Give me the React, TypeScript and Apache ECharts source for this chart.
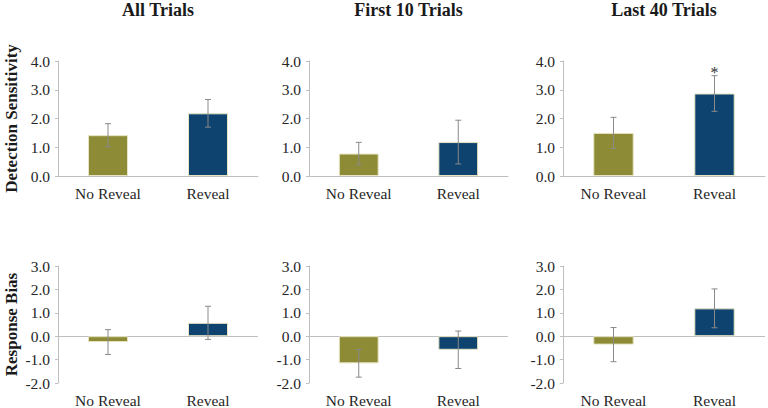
import React, { useEffect, useRef } from "react";
import * as echarts from "echarts";

const categories = ["No Reveal", "Reveal"];
const panelTitles = ["All Trials", "First 10 Trials", "Last 40 Trials"];
const rowNames = ["Detection Sensitivity", "Response Bias"];
const sensitivityMeans = [
  [1.42, 2.18],
  [0.78, 1.18],
  [1.5, 2.87],
];
const sensitivityErrors = [
  [0.4, 0.48],
  [0.39, 0.76],
  [0.54, 0.62],
];
const sensitivityMarks = [
  ["", ""],
  ["", ""],
  ["", "*"],
];
const biasMeans = [
  [-0.25, 0.57],
  [-1.16, -0.58],
  [-0.36, 1.19],
];
const biasErrors = [
  [0.53, 0.71],
  [0.59, 0.8],
  [0.73, 0.83],
];
const biasMarks = [
  ["", ""],
  ["", ""],
  ["", ""],
];
const sensitivityTicks = { min: 0, max: 4, interval: 1 };
const biasTicks = { min: -2, max: 3, interval: 1 };

const barColors = ["#8e8b36", "#0e426f"];
const SERIF = "'Liberation Serif', serif";
const AXIS_GRAY = "#bfbfbf";

const COLS = [
  { left: 58, width: 200 },
  { left: 309, width: 199 },
  { left: 563, width: 202 },
];
const ROWS = [
  { top: 61, height: 115 },
  { top: 266, height: 117 },
];

export default function App() {
  const ref = useRef<HTMLDivElement>(null);
  useEffect(() => {
    if (!ref.current) return;
    const chart = echarts.init(ref.current, undefined, { renderer: "svg" });
    const rowsData = [
      { means: sensitivityMeans, errs: sensitivityErrors, marks: sensitivityMarks, ticks: sensitivityTicks, zeroLine: false },
      { means: biasMeans, errs: biasErrors, marks: biasMarks, ticks: biasTicks, zeroLine: true },
    ];
    const labelStyle = {
      fontFamily: SERIF,
      fontSize: 15.5,
      fontWeight: "normal",
      color: "#262626",
    };
    const grid: any[] = [];
    const xAxis: any[] = [];
    const yAxis: any[] = [];
    const series: any[] = [];
    rowsData.forEach((row, r) => {
      COLS.forEach((col, c) => {
        const idx = r * 3 + c;
        grid.push({ left: col.left, width: col.width, top: ROWS[r].top, height: ROWS[r].height });
        xAxis.push({
          type: "category",
          gridIndex: idx,
          data: categories,
          axisLine: { show: !row.zeroLine, onZero: false, lineStyle: { color: AXIS_GRAY, width: 1 } },
          axisTick: { show: false },
          axisLabel: { ...labelStyle, margin: 9 },
        });
        yAxis.push({
          type: "value",
          gridIndex: idx,
          min: row.ticks.min,
          max: row.ticks.max,
          interval: row.ticks.interval,
          splitLine: { show: false },
          axisLine: { show: true, lineStyle: { color: AXIS_GRAY, width: 1 } },
          axisTick: { show: true, length: 3, lineStyle: { color: AXIS_GRAY } },
          axisLabel: {
            ...labelStyle,
            margin: 8,
            formatter: (v: number) => v.toFixed(1),
          },
        });
        const means = row.means[c];
        const errs = row.errs[c];
        const marks = row.marks[c];
        const bar: any = {
          type: "bar",
          xAxisIndex: idx,
          yAxisIndex: idx,
          barWidth: "40%",
          data: means.map((v, i) => ({ value: v, itemStyle: { color: barColors[i] } })),
          itemStyle: { borderColor: "#e6e4c2", borderWidth: 1 },
          z: 2,
        };
        if (row.zeroLine) {
          bar.markLine = {
            silent: true,
            symbol: ["none", "none"],
            label: { show: false },
            lineStyle: { color: AXIS_GRAY, type: "solid", width: 1 },
            data: [{ yAxis: 0 }],
            z: 1,
          };
        }
        series.push(bar);
        series.push({
          type: "custom",
          xAxisIndex: idx,
          yAxisIndex: idx,
          z: 5,
          clip: false,
          encode: { x: 0, y: 1 },
          data: means.map((v, i) => [i, v, errs[i]]),
          renderItem: (params: any, api: any) => {
            const ci = api.value(0);
            const m = api.value(1);
            const e = api.value(2);
            const hi = api.coord([ci, m + e]);
            const lo = api.coord([ci, m - e]);
            const x = hi[0];
            const cap = 3;
            const st = { stroke: "#8a8a8a", lineWidth: 1 };
            const children: any[] = [
              { type: "line", shape: { x1: x, y1: hi[1], x2: x, y2: lo[1] }, style: st },
              { type: "line", shape: { x1: x - cap, y1: hi[1], x2: x + cap, y2: hi[1] }, style: st },
              { type: "line", shape: { x1: x - cap, y1: lo[1], x2: x + cap, y2: lo[1] }, style: st },
            ];
            const mk = marks[params.dataIndex];
            if (mk) {
              children.push({
                type: "text",
                x: x,
                y: hi[1] - 3,
                style: {
                  text: mk,
                  font: `16px ${SERIF}`,
                  fill: "#333",
                  align: "center",
                  verticalAlign: "middle",
                },
              });
            }
            return { type: "group", children };
          },
        });
      });
    });

    const titleCenters = COLS.map((c) => c.left + c.width / 2);
    const graphic: any[] = [];
    panelTitles.forEach((t, i) => {
      graphic.push({
        type: "text",
        x: titleCenters[i],
        y: 10,
        style: {
          text: t,
          font: `bold 18px ${SERIF}`,
          fill: "#1a1a1a",
          align: "center",
          verticalAlign: "middle",
        },
      });
    });
    rowNames.forEach((t, r) => {
      graphic.push({
        type: "text",
        x: 11,
        y: ROWS[r].top + ROWS[r].height / 2,
        rotation: Math.PI / 2,
        style: {
          text: t,
          font: `bold 17px ${SERIF}`,
          fill: "#1a1a1a",
          align: "center",
          verticalAlign: "middle",
        },
      });
    });

    chart.setOption({
      animation: false,
      backgroundColor: "#ffffff",
      textStyle: { fontFamily: SERIF },
      grid,
      xAxis,
      yAxis,
      series,
      graphic,
    });
    return () => chart.dispose();
  }, []);
  return (
    <div
      ref={ref}
      style={{ position: "absolute", left: 0, top: 0, width: 768, height: 408 }}
    />
  );
}
